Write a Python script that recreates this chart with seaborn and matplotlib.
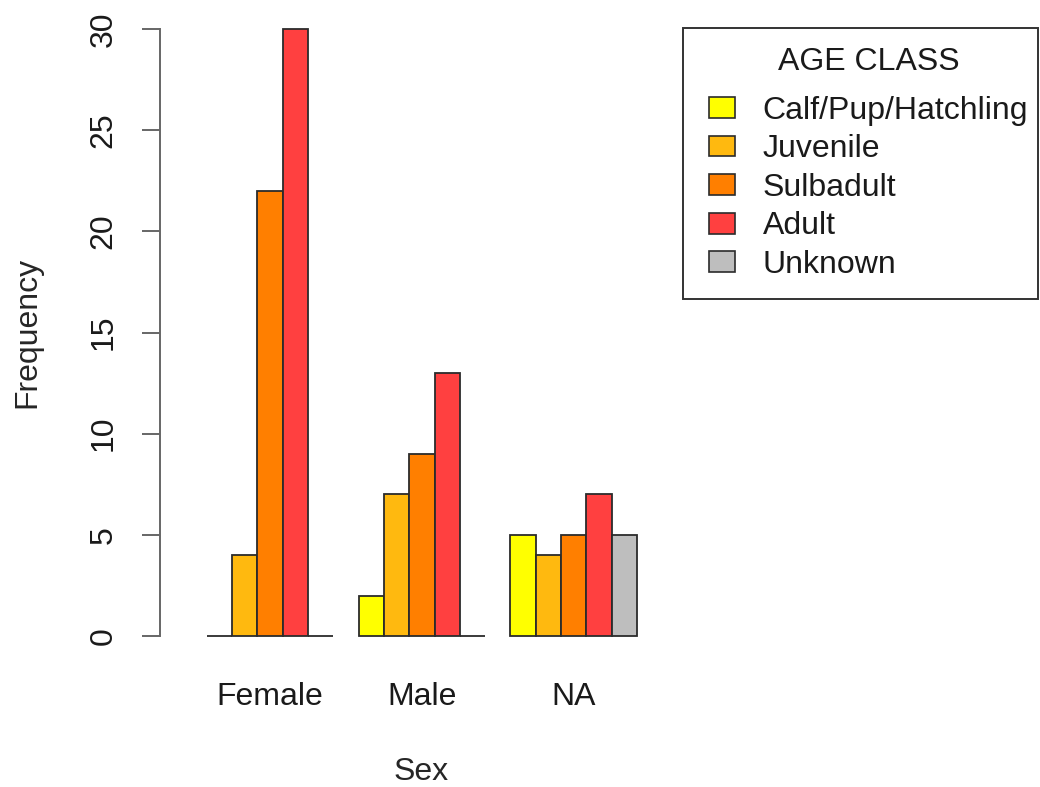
import pandas as pd
import matplotlib
matplotlib.use("Agg")
import matplotlib.pyplot as plt
from matplotlib.patches import Patch, Rectangle
import seaborn as sns

# data
sex = ["Female", "Male", "NA"]
age_classes = ["Calf/Pup/Hatchling", "Juvenile", "Sulbadult", "Adult", "Unknown"]
calf = [0, 2, 5]
juvenile = [4, 7, 4]
subadult = [22, 9, 5]
adult = [30, 13, 7]
unknown = [0, 0, 5]
colors = ["#FFFF00", "#FFB90F", "#FF7F00", "#FF4040", "#BEBEBE"]
y_ticks = [0, 5, 10, 15, 20, 25, 30]

counts = [calf, juvenile, subadult, adult, unknown]
rows = []
for age, vals in zip(age_classes, counts):
    for s, v in zip(sex, vals):
        rows.append({"Sex": s, "Age": age, "Frequency": v})
df = pd.DataFrame(rows)

sns.set_style("white")
plt.rcParams["font.family"] = ["Liberation Sans", "DejaVu Sans"]
plt.rcParams["text.color"] = "#1a1a1a"
fs = 23
W, H = 1040, 787

fig = plt.figure(figsize=(10.4, 7.87), dpi=100)
ax = fig.add_axes([160 / W, (H - 660.3) / H, 522 / W, (660.3 - 4.7) / H])

sns.barplot(data=df, x="Sex", y="Frequency", hue="Age", order=sex,
            hue_order=age_classes, palette=colors, width=5 / 6, gap=0,
            edgecolor="#2b2b2b", linewidth=1.3, errorbar=None,
            legend=False, ax=ax, saturation=1)

ax.set_xlim(-0.7253, 2.7135)
ax.set_ylim(-1.2, 31.2)

# R-style axes: only a left axis spanning the tick range
for side in ["top", "right", "bottom"]:
    ax.spines[side].set_visible(False)
ax.spines["left"].set_bounds(0, 30)
ax.spines["left"].set_color("#666666")
ax.spines["left"].set_linewidth(1.4)
ax.set_yticks(y_ticks)
ax.set_yticklabels([str(t) for t in y_ticks], rotation=90, va="center")
ax.tick_params(axis="y", left=True, direction="out", length=13, width=1.4,
               color="#666666", pad=17, labelsize=fs, labelcolor="#1a1a1a")
ax.tick_params(axis="x", bottom=False, length=0, pad=15.5, labelsize=fs,
               labelcolor="#1a1a1a")

ax.set_xlabel("Sex", fontsize=fs)
ax.set_ylabel("Frequency", fontsize=fs)
ax.xaxis.set_label_coords(0.5, -112 / 655.6)
ax.xaxis.label.set_va("center")
ax.yaxis.set_label_coords((27 - 160) / 522, 0.5)
ax.yaxis.label.set_va("center")

# legend box drawn separately so the padding can match R's legend()
fig.patches.append(Rectangle((683 / W, 1 - 299 / H), 355 / W, 271 / H,
                             transform=fig.transFigure, fill=False,
                             edgecolor="#333333", linewidth=1.4))
handles = [Patch(facecolor=c, edgecolor="#2b2b2b", linewidth=1.2) for c in colors]
leg = fig.legend(handles, age_classes, title="AGE CLASS", loc="upper left",
                 bbox_to_anchor=(709 / W, 1 - 47 / H), fontsize=fs,
                 title_fontsize=fs, frameon=False, borderpad=0,
                 handlelength=0.81, handleheight=0.625, handletextpad=0.875,
                 labelspacing=0.27, borderaxespad=0)
leg._legend_box.sep = 0.27 * fs + 7.2

fig.savefig("out.png", dpi=100)
